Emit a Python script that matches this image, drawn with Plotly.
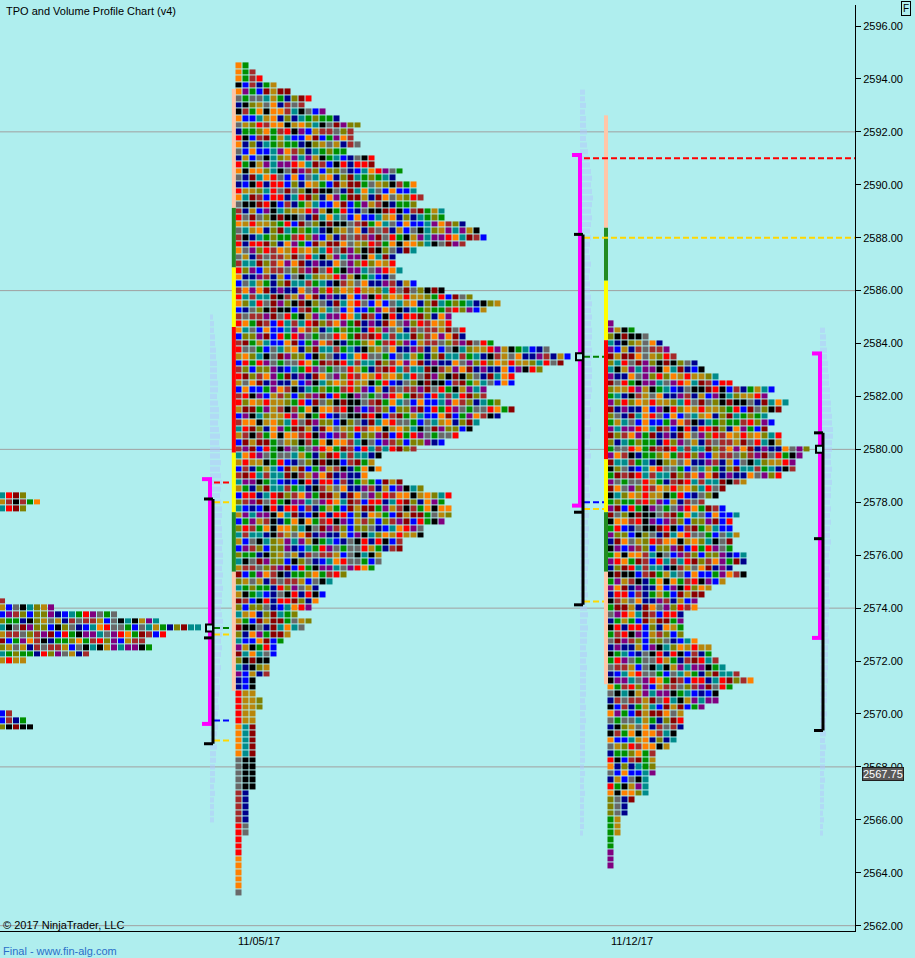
import plotly.graph_objects as go

TICK = 0.25
BG = "#AFEEEE"
FONT = "Liberation Sans, Arial, sans-serif"

# ---------------- data ----------------
tpo_palette = ["#008B8B", "#8B0000", "#009000", "#00008B", "#FF8000", "#A52A2A",
               "#B8860B", "#808000", "#800080", "#000000", "#696969", "#FF0000", "#0000FF"]

# Prior week profile (only its visible right part): top price + TPO count per row (top -> bottom)
p0_top = 2578.25
p0_counts = [4, 6, 4, 0, 0, 0, 0, 0, 0, 0, 0, 0, 0, 0, 0, 0, 1, 8, 17, 23, 29, 24, 21, 22, 13, 4,
             0, 0, 0, 0, 0, 0, 0, 2, 4, 5]

# Week of 11/05/17
p1_top = 2594.5
p1_counts = [2, 3, 4, 6, 8, 11, 10, 13, 15, 18, 17, 17, 18, 16, 20, 20, 24, 23, 26, 26,
             27, 26, 30, 30, 33, 35, 36, 33, 26, 23, 23, 24, 23, 26, 30, 34, 38, 36, 31, 31,
             33, 33, 37, 45, 48, 47, 44, 40, 40, 36, 36, 38, 40, 38, 35, 34, 32, 30, 26, 21,
             20, 21, 19, 24, 27, 31, 30, 31, 31, 30, 27, 27, 24, 24, 21, 21, 20, 16, 14, 12,
             13, 12, 11, 9, 11, 10, 8, 7, 6, 6, 5, 5, 5, 3, 3, 3, 4, 4, 3, 3,
             3, 3, 3, 3, 3, 3, 3, 3, 3, 3, 2, 2, 2, 2, 2, 2, 2, 1, 1, 1,
             1, 1, 1, 1, 1, 1]

# Week of 11/12/17
p2_top = 2584.75
p2_counts = [1, 4, 6, 8, 9, 10, 13, 14, 16, 18, 24, 23, 26, 25, 23, 24, 23, 25, 25, 29,
             28, 27, 27, 25, 20, 17, 16, 14, 17, 19, 18, 18, 19, 18, 18, 20, 20, 18, 20, 17,
             15, 14, 13, 13, 11, 11, 11, 11, 13, 15, 15, 16, 17, 19, 21, 18, 16, 16, 14, 11,
             11, 11, 10, 10, 9, 7, 7, 7, 7, 6, 6, 6, 4, 3, 3, 2, 2, 2, 1, 1,
             1, 1, 1]

# value-area / period colour bar segments: (low, high, colour)
p1_segments = [(2589.25, 2593.5, "#FFC6A8"), (2587.0, 2589.0, "#228B22"), (2584.75, 2586.75, "#FFFF00"),
               (2580.0, 2584.5, "#FF0000"), (2577.75, 2579.75, "#FFFF00"), (2575.5, 2577.5, "#228B22"),
               (2571.0, 2575.25, "#FFC6A8")]
p2_segments = [(2588.5, 2592.5, "#FFC6A8"), (2586.5, 2588.25, "#228B22"), (2584.25, 2586.25, "#FFFF00"),
               (2579.75, 2584.0, "#FF0000"), (2577.75, 2579.5, "#FFFF00"), (2575.5, 2577.5, "#228B22"),
               (2571.25, 2575.25, "#FFC6A8")]

# volume profiles: top price + relative length per row
vpA_top = 2585.0
vpA = [3, 4, 4, 5, 5, 6, 6, 7, 7,
       7, 8, 8, 7, 8, 9, 9, 8, 9, 10, 9, 10,
       10, 11, 10, 11, 12, 11, 10, 11, 12, 12, 11, 12,
       12, 13, 12, 13, 13, 12, 13, 12, 13, 12, 12, 11,
       12, 13, 13, 12, 11, 12, 11, 10, 11, 10, 9, 10,
       9, 8, 9, 8, 7, 8, 7, 6, 7, 6, 6, 5,
       5, 5, 4, 5, 4, 4, 4, 4]
vpB_top = 2593.5
vpB = [5, 5, 6, 5, 6, 6, 7, 6, 7, 8,
       9, 10, 11, 12, 11, 12, 13, 12, 11, 12,
       11, 10, 11, 10, 9, 10, 11, 10, 9, 10,
       10, 11, 12, 11, 12, 11, 12, 12, 11, 12,
       12, 11, 12, 12, 11, 12, 11, 10, 11, 10,
       10, 11, 10, 9, 10, 11, 10, 9, 9, 10,
       9, 10, 9, 8, 9, 8, 9, 8, 9, 8,
       8, 9, 8, 7, 8, 7, 8, 7, 7, 8,
       7, 8, 7, 7, 6, 7, 6, 7, 6, 6,
       6, 6, 5, 6, 5, 6, 5, 5, 5, 5,
       5, 5, 4, 5, 4, 4, 5, 4, 4, 4,
       4, 4, 3]
vpC_top = 2584.5
vpC = [5, 6, 6, 7, 7, 8, 8, 9, 9, 10,
       10, 11, 11, 12, 12, 13, 13, 12, 12, 11,
       11, 12, 11, 12, 11, 11, 10, 11, 10, 11,
       10, 10, 11, 10, 9, 10, 9, 10, 9, 9,
       9, 10, 9, 9, 8, 9, 8, 9, 8, 8,
       8, 8, 7, 8, 7, 7, 7, 6, 7, 6,
       6, 6, 5, 6, 5, 5, 5, 4, 5, 4,
       4, 4, 4, 3, 4, 3, 3]

# range brackets per week: magenta range, black range (lo, mid, hi), POC
brackets = {
    "A": dict(mag=(2569.75, 2578.75), blk=(2569.0, 2573.0, 2578.0), poc=2573.25),
    "B": dict(mag=(2578.0, 2591.0), blk=(2574.25, 2577.75, 2588.0), poc=2583.5),
    "C": dict(mag=(2573.0, 2583.5), blk=(2569.5, 2576.75, 2580.5), poc=2580.0),
}
# reference levels drawn as dashed lines: (level, colour, extends to right edge)
levels_A = [(2578.75, "#FF0000", False), (2578.0, "#FFD700", False), (2573.25, "#008000", False),
            (2573.0, "#FFD700", False), (2569.75, "#0000FF", False), (2569.0, "#FFD700", False)]
levels_B = [(2591.0, "#FF0000", True), (2588.0, "#FFD700", True), (2583.5, "#008000", False),
            (2578.0, "#0000FF", False), (2577.75, "#FFD700", False), (2574.25, "#FFD700", False)]

grid_levels = [2562, 2568, 2574, 2580, 2586, 2592]
date_labels = ["11/05/17", "11/12/17"]
last_price = 2567.75

# ---------------- layout constants (pixel-like x units) ----------------
X_MAX = 855
X_P0, X_P1, X_P2 = 2.5, 239.0, 611.0      # centre of first TPO column
COL = 7
X_BAR1, X_BAR2 = 233.8, 606.0
X_BR = {"A": 210, "B": 580, "C": 820}
X_DATES = [259, 632]

fig = go.Figure()

nC = len(tpo_palette)
cscale = []
for i, c in enumerate(tpo_palette):
    cscale.append([i / nC, c])
    cscale.append([(i + 1) / nC, c])


def tpo_colour(pid, r, k, cnt):
    # style only: spread the period colours over the cells; narrow tails keep runs of one colour
    rr = r // 5 if cnt <= 4 else r
    return (k * 5 + rr * 3 + ((k * 7 + rr) * (k + 3)) % 11 + pid * 4) % nC


def add_profile(top, counts, x0, pid):
    ncols = max(counts)
    ys, z = [], []
    for r, cnt in enumerate(counts):
        ys.append(top - r * TICK)
        z.append([tpo_colour(pid, r, k, cnt) + 0.5 if k < cnt else None for k in range(ncols)])
    fig.add_trace(go.Heatmap(z=z, y=ys, x0=x0, dx=COL, colorscale=cscale, zmin=0, zmax=nC,
                             showscale=False, xgap=1, ygap=1, hoverinfo="skip"))


def add_segments(segs, xc):
    fig.add_trace(go.Bar(x=[xc] * len(segs), base=[lo - TICK / 2 for lo, hi, c in segs],
                         y=[hi - lo + TICK for lo, hi, c in segs], width=4,
                         marker=dict(color=[c for lo, hi, c in segs], line=dict(width=0)),
                         hoverinfo="skip", showlegend=False))


def add_volume(top, vals, x_start):
    fig.add_trace(go.Bar(orientation="h", y=[top - i * TICK for i in range(len(vals))], x=vals,
                         base=x_start, width=0.19, marker=dict(color="rgba(180,198,252,0.5)",
                                                               line=dict(width=0)),
                         hoverinfo="skip", showlegend=False))


# volume profiles (under everything else)
add_volume(vpA_top, vpA, X_BR["A"])
add_volume(vpB_top, vpB, X_BR["B"])
add_volume(vpC_top, vpC, X_BR["C"])

add_profile(p0_top, p0_counts, X_P0, 0)
add_profile(p1_top, p1_counts, X_P1, 1)
add_profile(p2_top, p2_counts, X_P2, 2)
add_segments(p1_segments, X_BAR1)
add_segments(p2_segments, X_BAR2)


def add_levels(levels, x_from, x_to_short):
    for lvl, col, ext in levels:
        fig.add_trace(go.Scatter(x=[x_from, X_MAX if ext else x_to_short], y=[lvl, lvl], mode="lines",
                                 line=dict(color=col, width=2, dash="6px,3px"),
                                 hoverinfo="skip", showlegend=False))


add_levels(levels_A, X_BR["A"] + 4, X_BAR1 - 2)
add_levels(levels_B, X_BR["B"] + 4, X_BAR2 - 2)

h = TICK / 2
for key, b in brackets.items():
    xm = X_BR[key]
    lo, hi = b["mag"]
    fig.add_trace(go.Scatter(x=[xm, xm, None, xm - 8, xm + 2, None, xm - 8, xm + 2],
                             y=[lo - h, hi + h, None, hi + h, hi + h, None, lo - h, lo - h],
                             mode="lines", line=dict(color="#FF00FF", width=4),
                             hoverinfo="skip", showlegend=False))
    blo, bmid, bhi = b["blk"]
    xb = xm + 3
    fig.add_trace(go.Scatter(x=[xb, xb, None, xb - 9, xb, None, xb - 9, xb, None, xb - 9, xb],
                             y=[blo - h, bhi + h, None, bhi + h, bhi + h, None, bmid - h, bmid - h,
                                None, blo - h, blo - h],
                             mode="lines", line=dict(color="#000000", width=3),
                             hoverinfo="skip", showlegend=False))
    fig.add_trace(go.Scatter(x=[xm - 0.5], y=[b["poc"]], mode="markers",
                             marker=dict(symbol="square", size=7, color=BG,
                                         line=dict(color="#000000", width=2)),
                             hoverinfo="skip", showlegend=False))

# last price tag pointer
fig.add_trace(go.Scatter(x=[X_MAX + 5], y=[last_price], mode="markers", cliponaxis=False,
                         marker=dict(symbol="triangle-left", size=11, color="#5A5A5A"),
                         hoverinfo="skip", showlegend=False))

Y_TOP, Y_BOT = 2596.794, 2561.798
shapes = [dict(type="line", xref="paper", x0=0, x1=1, yref="y", y0=g, y1=g, layer="below",
               line=dict(color="#A0A0A0", width=1)) for g in grid_levels]

annotations = [
    dict(text="TPO and Volume Profile Chart (v4)", xref="paper", yref="paper", x=0, y=1,
         xanchor="left", yanchor="top", xshift=4, yshift=2, showarrow=False,
         font=dict(family=FONT, size=11, color="#000000")),
    dict(text="© 2017 NinjaTrader, LLC", xref="paper", yref="paper", x=0, y=0, xanchor="left",
         yanchor="middle", xshift=1, yshift=6, showarrow=False,
         font=dict(family=FONT, size=11, color="#000000")),
    dict(text="Final - www.fin-alg.com", xref="paper", yref="paper", x=0, y=0, xanchor="left",
         yanchor="middle", xshift=1, yshift=-20, showarrow=False,
         font=dict(family=FONT, size=11, color="#2A6FC9")),
    dict(text="F", xref="paper", yref="paper", x=1, y=1, xanchor="left", yanchor="top",
         xshift=46, yshift=4, showarrow=False, bordercolor="#000000", borderwidth=1, borderpad=1,
         font=dict(family=FONT, size=10, color="#000000")),
    dict(text=f"{last_price:.2f}", xref="paper", yref="y", x=1, y=last_price, xanchor="left",
         yanchor="middle", xshift=7, showarrow=False, bgcolor="#5A5A5A", bordercolor="#202020",
         borderwidth=1, borderpad=0, font=dict(family=FONT, size=11, color="#FFFFFF")),
]

fig.update_layout(
    width=915, height=958,
    margin=dict(l=0, r=60, t=5, b=27, pad=0),
    paper_bgcolor=BG, plot_bgcolor=BG,
    barmode="overlay", showlegend=False,
    font=dict(family=FONT, size=11, color="#000000"),
    shapes=shapes, annotations=annotations,
    xaxis=dict(range=[0, X_MAX], showgrid=False, zeroline=False, showline=True,
               linecolor="#000000", linewidth=1, tickvals=X_DATES, ticktext=date_labels,
               ticks="", tickfont=dict(family=FONT, size=11, color="#000000"), fixedrange=True),
    yaxis=dict(range=[Y_BOT, Y_TOP], side="right", showgrid=False, zeroline=False, showline=True,
               linecolor="#000000", linewidth=1, ticks="outside", ticklen=5, tickcolor="#000000",
               dtick=2, tick0=2562, tickformat=".2f",
               tickfont=dict(family=FONT, size=11, color="#000000"), fixedrange=True),
)

fig.write_html("out.html", config={"displayModeBar": False},
               post_script="document.body.style.margin='0';document.body.style.overflow='hidden';")
